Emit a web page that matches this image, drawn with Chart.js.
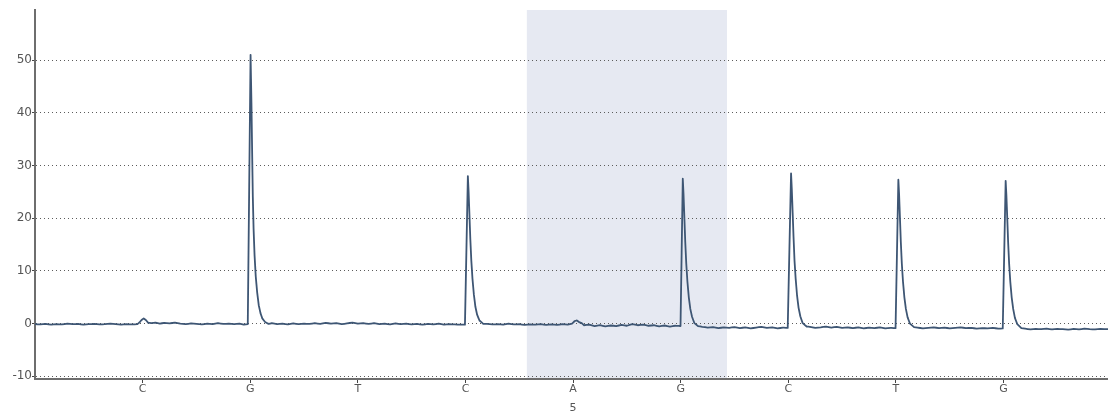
<!DOCTYPE html>
<html>
<head>
<meta charset="utf-8">
<title>Pyrogram</title>
<script src="https://cdn.jsdelivr.net/npm/chart.js@4/dist/chart.umd.min.js"></script>
<style>
    html, body { margin: 0; padding: 0; background: #ffffff; }
    #wrap { width: 1108px; height: 414px; position: relative; }
</style>
</head>
<body>
<div id="wrap"><canvas id="pyrogram"></canvas></div>
<script>
// dispensation order, one nucleotide per position (1-based)
const dispensation = ['C', 'G', 'T', 'C', 'A', 'G', 'C', 'T', 'G'];

// shaded variable position on the x axis
const highlight = [4.57, 6.43];

// y axis ticks
const yTicks = [-10, 0, 10, 20, 30, 40, 50];

// light signal trace, [position, signal]
const trace = [
    // start .. C1 bump .. G2
    [0, -0.1], [0.05, -0.15], [0.1, -0.05], [0.15, -0.2], [0.2, -0.1], [0.25, -0.15], [0.3, 0.0], [0.35, -0.1],
    [0.4, -0.05], [0.45, -0.2], [0.5, -0.1], [0.55, -0.05], [0.6, -0.15], [0.65, -0.1], [0.7, 0.0], [0.75, -0.1],
    [0.8, -0.2], [0.85, -0.1], [0.9, -0.15], [0.95, -0.1], [0.97, 0.2], [0.99, 0.7], [1.01, 1.0], [1.03, 0.7],
    [1.05, 0.2], [1.08, 0.1], [1.12, 0.2], [1.16, 0.0], [1.2, 0.15], [1.25, 0.05], [1.3, 0.2], [1.35, 0.0],
    [1.4, -0.1], [1.45, 0.05], [1.5, -0.05], [1.55, -0.15], [1.6, 0.0], [1.65, -0.1], [1.7, 0.1], [1.75, -0.05],
    [1.8, 0.0], [1.85, -0.1], [1.9, 0.0], [1.94, -0.2], [1.977, -0.1],
    // G2 peak
    [2.003, 51], [2.011, 42], [2.018, 32], [2.024, 24], [2.031, 18], [2.04, 13], [2.051, 9], [2.064, 6],
    [2.079, 3.5], [2.095, 2], [2.112, 1], [2.138, 0.3],
    // G2 .. C4
    [2.17, -0.05], [2.2, 0.1], [2.25, -0.1], [2.3, 0.0], [2.35, -0.15], [2.4, 0.05], [2.45, -0.1], [2.5, 0.0],
    [2.55, -0.05], [2.6, 0.1], [2.65, -0.05], [2.7, 0.15], [2.75, 0.0], [2.8, 0.1], [2.85, -0.1], [2.9, 0.05],
    [2.95, 0.2], [3.0, 0.0], [3.05, 0.1], [3.1, -0.05], [3.15, 0.1], [3.2, -0.1], [3.25, 0.0], [3.3, -0.15],
    [3.35, 0.05], [3.4, -0.1], [3.45, 0.0], [3.5, -0.15], [3.55, -0.05], [3.6, -0.2], [3.65, -0.05], [3.7, -0.15],
    [3.75, 0.0], [3.8, -0.2], [3.85, -0.1], [3.9, -0.15], [3.95, -0.2], [3.995, -0.2],
    // C4 peak
    [4.022, 28], [4.029, 25], [4.037, 20.5], [4.045, 16], [4.054, 12], [4.065, 8.5], [4.078, 5.5], [4.092, 3.2],
    [4.108, 1.7], [4.13, 0.6], [4.165, -0.05],
    // C4 .. A5 bump .. G6
    [4.2, -0.05], [4.25, -0.15], [4.3, -0.1], [4.35, -0.2], [4.4, 0.0], [4.45, -0.15], [4.5, -0.1], [4.55, -0.25],
    [4.6, -0.15], [4.65, -0.2], [4.7, -0.1], [4.75, -0.25], [4.8, -0.15], [4.85, -0.25], [4.9, -0.1], [4.95, -0.2],
    [4.99, 0.0], [5.015, 0.5], [5.035, 0.6], [5.055, 0.3], [5.08, 0.1], [5.1, -0.3], [5.15, -0.2], [5.2, -0.45],
    [5.25, -0.3], [5.3, -0.5], [5.35, -0.35], [5.4, -0.45], [5.45, -0.25], [5.5, -0.4], [5.55, -0.1], [5.6, -0.3],
    [5.65, -0.2], [5.7, -0.4], [5.75, -0.3], [5.8, -0.5], [5.85, -0.35], [5.9, -0.55], [5.95, -0.4], [5.998, -0.45],
    // G6 peak
    [6.019, 27.5], [6.026, 24.5], [6.034, 20], [6.042, 15.5], [6.051, 11.5], [6.062, 8], [6.075, 5], [6.089, 2.8],
    [6.105, 1.3], [6.127, 0.1], [6.16, -0.45],
    // G6 .. C7
    [6.2, -0.6], [6.25, -0.75], [6.3, -0.65], [6.35, -0.85], [6.4, -0.7], [6.45, -0.8], [6.5, -0.65], [6.55, -0.85],
    [6.6, -0.7], [6.65, -0.9], [6.7, -0.75], [6.75, -0.6], [6.8, -0.8], [6.85, -0.7], [6.9, -0.9], [6.95, -0.75],
    [6.994, -0.8],
    // C7 peak
    [7.025, 28.5], [7.032, 25.5], [7.04, 21], [7.048, 16.5], [7.057, 12], [7.068, 8.5], [7.081, 5.3], [7.095, 3],
    [7.111, 1.4], [7.133, 0.1], [7.17, -0.55],
    // C7 .. T8
    [7.2, -0.6], [7.25, -0.8], [7.3, -0.7], [7.35, -0.55], [7.4, -0.75], [7.45, -0.6], [7.5, -0.8], [7.55, -0.7],
    [7.6, -0.85], [7.65, -0.7], [7.7, -0.9], [7.75, -0.75], [7.8, -0.85], [7.85, -0.7], [7.9, -0.9], [7.95, -0.8],
    [7.996, -0.85],
    // T8 peak
    [8.022, 27.3], [8.029, 24.5], [8.037, 20], [8.045, 15.5], [8.054, 11.5], [8.065, 8], [8.078, 5], [8.092, 2.8],
    [8.108, 1.2], [8.13, 0.0], [8.168, -0.65],
    // T8 .. G9
    [8.2, -0.75], [8.25, -0.9], [8.3, -0.8], [8.35, -0.7], [8.4, -0.85], [8.45, -0.75], [8.5, -0.9], [8.55, -0.8],
    [8.6, -0.7], [8.65, -0.85], [8.7, -0.8], [8.75, -0.95], [8.8, -0.85], [8.85, -0.9], [8.9, -0.8], [8.95, -0.95],
    [8.992, -0.9],
    // G9 peak
    [9.019, 27.1], [9.026, 24.3], [9.034, 20], [9.042, 15.5], [9.051, 11.5], [9.062, 8], [9.075, 5], [9.089, 2.8],
    [9.105, 1.1], [9.127, -0.1], [9.165, -0.85],
    // G9 .. end
    [9.2, -0.95], [9.25, -1.1], [9.3, -1.0], [9.35, -1.05], [9.4, -0.95], [9.45, -1.1], [9.5, -1.0], [9.55, -1.05],
    [9.6, -1.15], [9.65, -1.0], [9.7, -1.1], [9.75, -0.95], [9.8, -1.05], [9.85, -1.1], [9.9, -1.0], [9.97, -1.05]
];

const labelColor = '#555555';
const axisColor = '#6e6e6e';
const gridColor = '#5c5c5c';

// shaded band behind the grid
const highlightBand = {
    id: 'highlightBand',
    beforeDraw(chart) {
        const { ctx, chartArea, scales } = chart;
        const x1 = scales.x.getPixelForValue(highlight[0]);
        const x2 = scales.x.getPixelForValue(highlight[1]);
        ctx.save();
        ctx.fillStyle = '#e6e9f2';
        ctx.fillRect(x1, chartArea.top, x2 - x1, chartArea.bottom - chartArea.top);
        ctx.restore();
    }
};

const ctx = document.getElementById('pyrogram').getContext('2d');
new Chart(ctx, {
    type: 'line',
    data: {
        datasets: [{
            data: trace.map(p => ({ x: p[0], y: p[1] })),
            borderColor: '#3e5674',
            borderWidth: 1.8,
            pointRadius: 0,
            // a tiny tension keeps every point (the fast path merges points sharing a pixel column)
            tension: 0.001,
            borderJoinStyle: 'round',
            fill: false
        }]
    },
    options: {
        responsive: true,
        maintainAspectRatio: false,
        animation: false,
        layout: { padding: { top: 10, right: 0, left: 0, bottom: 0 } },
        plugins: {
            legend: { display: false },
            tooltip: { enabled: false }
        },
        scales: {
            x: {
                type: 'linear',
                min: 0,
                max: 9.97,
                afterBuildTicks: scale => {
                    scale.ticks = dispensation.map((b, i) => ({ value: i + 1 }));
                },
                afterFit: scale => { scale.height = 35; },
                ticks: {
                    color: labelColor,
                    font: { family: 'DejaVu Sans', size: 11, lineHeight: 1.7 },
                    padding: -3,
                    maxRotation: 0,
                    autoSkip: false,
                    callback: value => {
                        const n = Math.round(value);
                        const base = dispensation[n - 1];
                        return n % 5 === 0 ? [base, String(n)] : base;
                    }
                },
                grid: {
                    drawOnChartArea: false,
                    drawTicks: true,
                    tickLength: 4,
                    tickColor: '#444444'
                },
                border: { display: true, color: axisColor, width: 2 }
            },
            y: {
                min: -10.5,
                max: 59.5,
                afterBuildTicks: scale => {
                    scale.ticks = yTicks.map(v => ({ value: v }));
                },
                afterFit: scale => { scale.width = 35; },
                ticks: {
                    color: labelColor,
                    font: { family: 'DejaVu Sans', size: 12 },
                    padding: 0
                },
                grid: {
                    color: gridColor,
                    lineWidth: 1,
                    drawTicks: true,
                    tickLength: 3,
                    tickColor: '#444444'
                },
                border: { display: true, color: axisColor, width: 2, dash: [1, 3] }
            }
        }
    },
    plugins: [highlightBand]
});
</script>
</body>
</html>
